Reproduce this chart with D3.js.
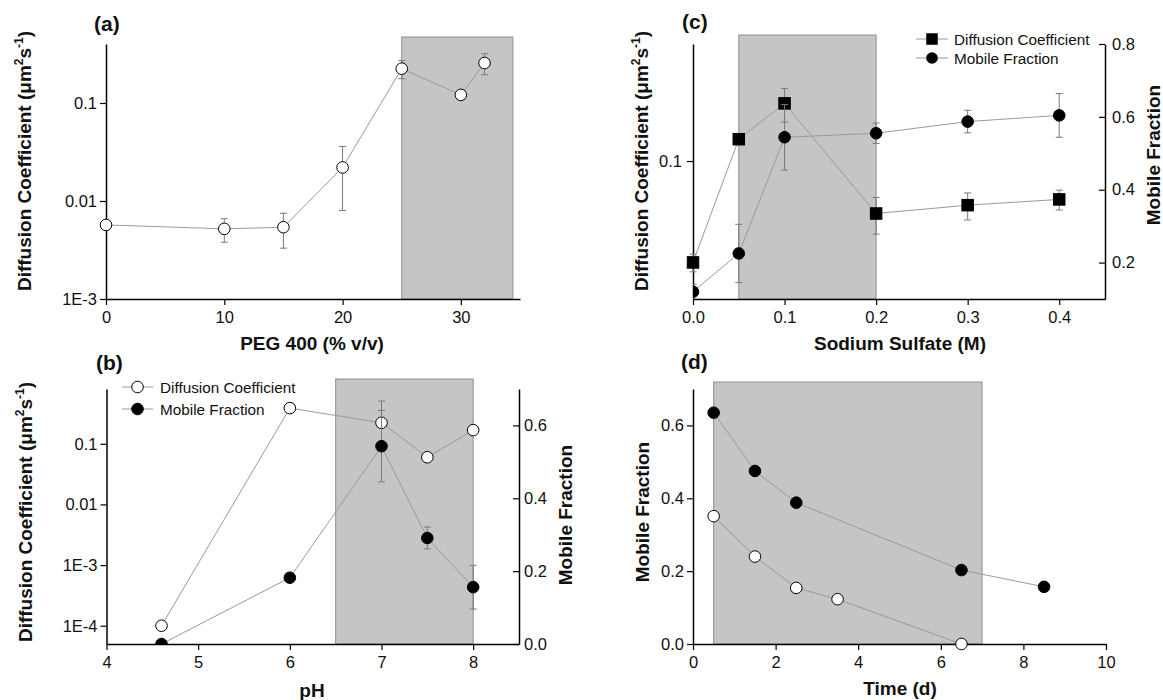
<!DOCTYPE html>
<meta charset="utf-8">
<script src="https://d3js.org/d3.v7.min.js"></script>
<style>
  body { margin: 0; background: #fff; }
  svg { font-family: "Liberation Sans", Arial, sans-serif; }
</style>
<body>
<script>

  // ---- data ----
  // (a) PEG 400
  var pegX = [0, 10, 15, 20, 25, 30, 32];
  var pegD = [0.0057, 0.0052, 0.0054, 0.022, 0.224, 0.121, 0.256];
  var pegDErr = [0, 0.0014, 0.0021, 0.014, 0.047, 0, 0.062];

  // (b) pH
  var phX = [4.6, 6, 7, 7.5, 8];
  var phD = [1e-4, 0.387, 0.222, 0.060, 0.168];
  var phDErr = [0, 0, 0.285, 0, 0];
  var phM = [0.0, 0.182, 0.543, 0.291, 0.156];
  var phMErr = [0, 0, 0.098, 0.03, 0.06];

  // (c) sodium sulfate
  var naX = [0, 0.05, 0.1, 0.2, 0.3, 0.4];
  var naD = [0.0248, 0.135, 0.221, 0.0486, 0.0545, 0.059];
  var naDErr = [0.003, 0.006, 0.05, 0.012, 0.01, 0.008];
  var naM = [0.12, 0.225, 0.544, 0.555, 0.587, 0.604];
  var naMErr = [0.02, 0.08, 0.09, 0.028, 0.031, 0.06];

  // (d) time
  var tFilledX = [0.5, 1.5, 2.5, 6.5, 8.5];
  var tFilled = [0.635, 0.475, 0.388, 0.203, 0.157];
  var tOpenX = [0.5, 1.5, 2.5, 3.5, 6.5];
  var tOpen = [0.351, 0.240, 0.154, 0.123, 0.0];

  // shaded ranges (x data units)
  var shadeA = [25, 34.4];
  var shadeB = [6.5, 8.0];
  var shadeC = [0.05, 0.2];
  var shadeD = [0.5, 7.0];

  var logLabels = { "0.0001": "1E-4", "0.001": "1E-3", "0.01": "0.01", "0.1": "0.1" };

  var svg = d3.select("body").append("svg")
    .attr("width", 1163)
    .attr("height", 700);

  var lineCol = "#9a9a9a", errCol = "#7a7a7a";
  var R = 5.8, SQ = 11.5;
  var tickFont = 16.5, titleFont = 19;

  function logMinors(lo, hi) {
    var out = [];
    for (var e = -6; e <= 1; e++) {
      for (var m = 2; m <= 9; m++) {
        var v = m * Math.pow(10, e);
        if (v >= lo * 0.999 && v <= hi * 1.001) out.push(v);
      }
    }
    return out;
  }

  function styleAxis(g) {
    g.select(".domain").attr("stroke", "#000").attr("stroke-width", 1.5);
    g.selectAll(".tick line").attr("stroke", "#000").attr("stroke-width", 1.2);
    g.selectAll(".tick text").attr("font-size", tickFont).attr("fill", "#111")
      .attr("font-family", "Liberation Sans, Arial, sans-serif");
  }

  function shade(g, x, range, yTop, yBot) {
    g.append("rect")
      .attr("x", x(range[0]))
      .attr("y", yTop)
      .attr("width", x(range[1]) - x(range[0]))
      .attr("height", yBot - yTop)
      .attr("fill", "#c5c5c5")
      .attr("stroke", "#8f8f8f")
      .attr("stroke-width", 1);
  }

  function series(g, xs, ys, errs, x, y, shape, fill, clipId) {
    var gg = g.append("g");
    if (clipId) gg.attr("clip-path", "url(#" + clipId + ")");
    var pts = xs.map(function (v, i) { return [v, ys[i], errs ? errs[i] : 0]; });
    gg.append("path")
      .datum(pts)
      .attr("fill", "none")
      .attr("stroke", lineCol)
      .attr("stroke-width", 1)
      .attr("d", d3.line().x(function (d) { return x(d[0]); }).y(function (d) { return y(d[1]); }));
    // error bars
    pts.forEach(function (d) {
      if (!d[2]) return;
      var cx = x(d[0]);
      var hi = y(d[1] + d[2]);
      var lo = d[1] - d[2] > 0 ? y(d[1] - d[2]) : y(d[1]);
      gg.append("line").attr("x1", cx).attr("x2", cx).attr("y1", hi).attr("y2", lo)
        .attr("stroke", errCol).attr("stroke-width", 1);
      gg.append("line").attr("x1", cx - 3.5).attr("x2", cx + 3.5).attr("y1", hi).attr("y2", hi)
        .attr("stroke", errCol).attr("stroke-width", 1);
      if (d[1] - d[2] > 0)
        gg.append("line").attr("x1", cx - 3.5).attr("x2", cx + 3.5).attr("y1", lo).attr("y2", lo)
          .attr("stroke", errCol).attr("stroke-width", 1);
    });
    pts.forEach(function (d) {
      if (shape == "square") {
        gg.append("rect")
          .attr("x", x(d[0]) - SQ / 2).attr("y", y(d[1]) - SQ / 2)
          .attr("width", SQ).attr("height", SQ)
          .attr("fill", fill).attr("stroke", "#000").attr("stroke-width", 1);
      } else {
        gg.append("circle")
          .attr("cx", x(d[0])).attr("cy", y(d[1])).attr("r", R)
          .attr("fill", fill).attr("stroke", "#000").attr("stroke-width", 1);
      }
    });
  }

  function clip(id, x0, y0, x1, y1) {
    svg.append("clipPath").attr("id", id)
      .append("rect").attr("x", x0).attr("y", y0).attr("width", x1 - x0).attr("height", y1 - y0);
  }

  function bottomAxis(x, yPix, majors, minors, fmt) {
    var g = svg.append("g").attr("transform", "translate(0," + yPix + ")");
    g.call(d3.axisBottom(x).tickValues(minors).tickFormat("").tickSize(3).tickSizeOuter(0));
    g.call(d3.axisBottom(x).tickValues(majors).tickFormat(fmt).tickSize(6).tickSizeOuter(0).tickPadding(6));
    styleAxis(g);
  }

  function leftAxis(y, xPix, majors, minors, fmt, pad) {
    var g = svg.append("g").attr("transform", "translate(" + xPix + ",0)");
    g.call(d3.axisLeft(y).tickValues(minors).tickFormat("").tickSize(3).tickSizeOuter(0));
    g.call(d3.axisLeft(y).tickValues(majors).tickFormat(fmt).tickSize(6).tickSizeOuter(0).tickPadding(pad || 3));
    styleAxis(g);
  }

  function rightAxis(y, xPix, majors, minors, fmt, pad) {
    var g = svg.append("g").attr("transform", "translate(" + xPix + ",0)");
    g.call(d3.axisRight(y).tickValues(minors).tickFormat("").tickSizeInner(-3).tickSizeOuter(0));
    g.call(d3.axisRight(y).tickValues(majors).tickFormat(fmt).tickSizeInner(-6).tickSizeOuter(0).tickPadding(pad || 5));
    styleAxis(g);
  }

  function logFmt(d) { return logLabels[String(d)]; }
  var f1 = d3.format(".1f");

  function title(x, y, rotate) {
    return svg.append("text")
      .attr("transform", "translate(" + x + "," + y + ")" + (rotate ? " rotate(-90)" : ""))
      .attr("text-anchor", "middle")
      .attr("font-weight", "bold")
      .attr("font-size", titleFont)
      .attr("fill", "#111");
  }

  function dcTitle(x, y) {
    var t = title(x, y, true);
    t.append("tspan").text("Diffusion Coefficient (\u03bcm");
    t.append("tspan").attr("dy", -8).attr("font-size", 12).text("2");
    t.append("tspan").attr("dy", 8).text("s");
    t.append("tspan").attr("dy", -8).attr("font-size", 12).text("-1");
    t.append("tspan").attr("dy", 8).text(")");
  }

  function panelLabel(x, y, str) {
    svg.append("text").attr("x", x).attr("y", y)
      .attr("font-weight", "bold").attr("font-size", 21).attr("fill", "#111").text(str);
  }

  // ================= (a) =================
  var xA = d3.scaleLinear().domain([0, 35]).range([106, 520]);
  var yA = d3.scaleLog().domain([1e-3, 0.4]).range([299, 44]);
  var gA = svg.append("g");
  shade(gA, xA, shadeA, 37, 299);
  bottomAxis(xA, 299, [0, 10, 20, 30], [5, 15, 25, 35], d3.format("d"));
  leftAxis(yA, 106, [1e-3, 0.01, 0.1], logMinors(1e-3, 0.4), logFmt);
  series(svg, pegX, pegD, pegDErr, xA, yA, "circle", "#fff");
  panelLabel(94, 31, "(a)");
  title(312, 350).text("PEG 400 (% v/v)");
  dcTitle(31, 161);

  // ================= (b) =================
  var xB = d3.scaleLinear().domain([4, 8.5]).range([106.5, 519]);
  var yBl = d3.scaleLog().domain([5e-5, 0.8]).range([644, 389]);
  var yBr = d3.scaleLinear().domain([0, 0.7]).range([644, 389]);
  var gB = svg.append("g");
  clip("clipB", 106.5, 389, 519, 644);
  shade(gB, xB, shadeB, 379, 644);
  bottomAxis(xB, 644, [4, 5, 6, 7, 8], [4.5, 5.5, 6.5, 7.5, 8.5], d3.format("d"));
  leftAxis(yBl, 106.5, [1e-4, 1e-3, 0.01, 0.1], logMinors(5e-5, 0.8), logFmt);
  rightAxis(yBr, 519, [0, 0.2, 0.4, 0.6], [0.1, 0.3, 0.5, 0.7], f1);
  series(svg, phX, phD, phDErr, xB, yBl, "circle", "#fff");
  series(svg, phX, phM, phMErr, xB, yBr, "circle", "#000", "clipB");
  panelLabel(96, 370, "(b)");
  title(312, 697).text("pH");
  dcTitle(32, 512);
  title(572, 515, true).text("Mobile Fraction");

  // legend (b)
  var legB = svg.append("g");
  [["Diffusion Coefficient", "#fff", 387], ["Mobile Fraction", "#000", 409]].forEach(function (r) {
    legB.append("line").attr("x1", 122).attr("x2", 153).attr("y1", r[2]).attr("y2", r[2])
      .attr("stroke", lineCol).attr("stroke-width", 1);
    legB.append("circle").attr("cx", 137.5).attr("cy", r[2]).attr("r", R)
      .attr("fill", r[1]).attr("stroke", "#000");
    legB.append("text").attr("x", 160).attr("y", r[2] + 5.5).attr("font-size", 15.3)
      .attr("fill", "#111").text(r[0]);
  });

  // ================= (c) =================
  var xC = d3.scaleLinear().domain([0, 0.45]).range([693, 1105]);
  var yCl = d3.scaleLog().domain([0.015, 0.5]).range([299, 44]);
  var yCr = d3.scaleLinear().domain([0.1, 0.8]).range([299, 44]);
  var gC = svg.append("g");
  clip("clipC", 693, 44, 1105, 299);
  shade(gC, xC, shadeC, 35, 299);
  bottomAxis(xC, 299, [0, 0.1, 0.2, 0.3, 0.4], [0.05, 0.15, 0.25, 0.35, 0.45], f1);
  leftAxis(yCl, 693, [0.1], logMinors(0.015, 0.5), function (d) { return "0.1"; }, 5);
  rightAxis(yCr, 1105, [0.2, 0.4, 0.6, 0.8], [0.1, 0.3, 0.5, 0.7], f1, 7);
  series(svg, naX, naD, naDErr, xC, yCl, "square", "#000");
  series(svg, naX, naM, naMErr, xC, yCr, "circle", "#000", "clipC");
  panelLabel(682, 29, "(c)");
  title(900, 350).text("Sodium Sulfate (M)");
  dcTitle(648, 161);
  title(1160, 155, true).text("Mobile Fraction");

  // legend (c)
  var legC = svg.append("g");
  [["Diffusion Coefficient", "square", 39], ["Mobile Fraction", "circle", 58]].forEach(function (r) {
    legC.append("line").attr("x1", 916).attr("x2", 948).attr("y1", r[2]).attr("y2", r[2])
      .attr("stroke", lineCol).attr("stroke-width", 1);
    if (r[1] == "square")
      legC.append("rect").attr("x", 932 - SQ / 2).attr("y", r[2] - SQ / 2).attr("width", SQ).attr("height", SQ)
        .attr("fill", "#000");
    else
      legC.append("circle").attr("cx", 932).attr("cy", r[2]).attr("r", R).attr("fill", "#000");
    legC.append("text").attr("x", 954).attr("y", r[2] + 5.5).attr("font-size", 15.3)
      .attr("fill", "#111").text(r[0]);
  });

  // ================= (d) =================
  var xD = d3.scaleLinear().domain([0, 10]).range([693, 1106]);
  var yD = d3.scaleLinear().domain([0, 0.7]).range([644, 389]);
  var gD = svg.append("g");
  shade(gD, xD, shadeD, 382, 644);
  bottomAxis(xD, 644, [0, 2, 4, 6, 8, 10], [1, 3, 5, 7, 9], d3.format("d"));
  leftAxis(yD, 693, [0, 0.2, 0.4, 0.6], [0.1, 0.3, 0.5, 0.7], f1);
  series(svg, tFilledX, tFilled, null, xD, yD, "circle", "#000");
  series(svg, tOpenX, tOpen, null, xD, yD, "circle", "#fff");
  panelLabel(681, 369, "(d)");
  title(900, 695).text("Time (d)");
  title(649, 512, true).text("Mobile Fraction");

</script>
</body>
